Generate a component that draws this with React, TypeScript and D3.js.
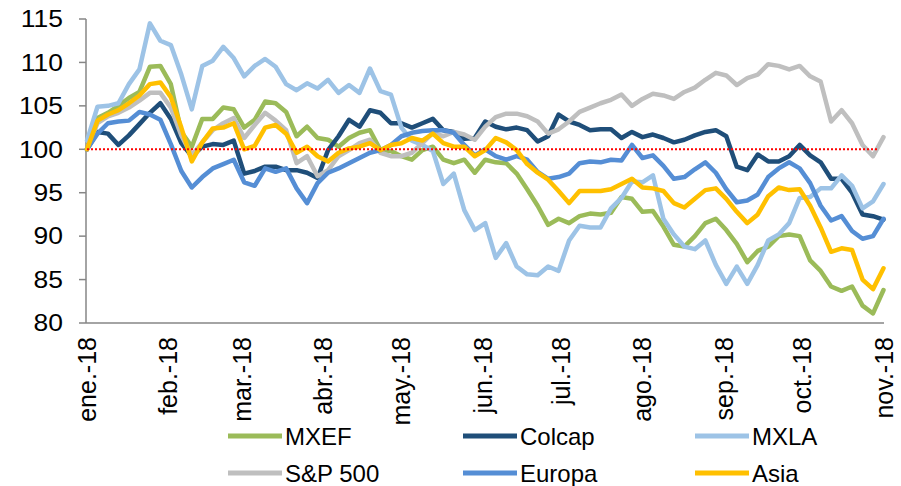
import { useEffect, useRef } from "react"
import * as d3 from "d3"

// fechas (cada 4 días, 2018)
const dates = [
  "01-01", "01-05", "01-09", "01-13", "01-17", "01-21", "01-25", "01-29", "02-02", "02-06",
  "02-10", "02-14", "02-18", "02-22", "02-26", "03-02", "03-06", "03-10", "03-14", "03-18",
  "03-22", "03-26", "03-30", "04-03", "04-07", "04-11", "04-15", "04-19", "04-23",
  "04-27", "05-01", "05-05", "05-09", "05-13", "05-17", "05-21", "05-25", "05-29", "06-02",
  "06-06", "06-10", "06-14", "06-18", "06-22", "06-26", "06-30", "07-04", "07-08",
  "07-12", "07-16", "07-20", "07-24", "07-28", "08-01", "08-05", "08-09", "08-13", "08-17",
  "08-21", "08-25", "08-29", "09-02", "09-06", "09-10", "09-14", "09-18", "09-22",
  "09-26", "09-30", "10-04", "10-08", "10-12", "10-16", "10-20", "10-24", "10-28", "11-01",
]

const mxef = [
  100, 103.6, 104.2, 105, 105.9, 106.6, 109.5, 109.6, 107.5, 102,
  100.3, 103.5, 103.5, 104.8, 104.6, 102.5, 103.4, 105.5, 105.3, 104.3,
  101.5, 102.6, 101.3, 101.1, 100.3, 101.3, 101.9, 102.2, 99.9,
  99.8, 99.2, 98.8, 99.9, 100.3, 98.8, 98.4, 98.8, 97.3, 98.8,
  98.5, 98.4, 97.2, 95.4, 93.5, 91.3, 92, 91.5, 92.3,
  92.6, 92.5, 92.7, 94.5, 94.3, 92.8, 92.9, 91.1, 89, 88.8,
  90, 91.5, 92, 90.7, 89.1, 87, 88.3, 88.8, 90,
  90.2, 90, 87.2, 86, 84.2, 83.7, 84.2, 82, 81.1, 83.8,
]

const colcap = [
  100, 102, 101.8, 100.5, 101.6, 102.9, 104.2, 105.3, 103.5, 100.7,
  99.2, 100.3, 100.6, 100.5, 101, 97.2, 97.5, 98, 98, 97.6,
  97.6, 97.3, 96.7, 99.9, 101.5, 103.4, 102.6, 104.5, 104.2,
  103, 103, 102.5, 103, 103.5, 102.2, 102, 101.2, 101.3, 103.2,
  102.6, 102.3, 102.5, 102.2, 100.9, 101.5, 104, 103.2, 102.8,
  102.2, 102.3, 102.3, 101.3, 102, 101.4, 101.7, 101.3, 100.8, 101.1,
  101.6, 102, 102.2, 101.5, 98, 97.6, 99.4, 98.6, 98.6,
  99.2, 100.5, 99.3, 98.5, 96.6, 96.6, 95, 92.5, 92.3, 91.9,
]

const mxla = [
  101, 104.9, 105, 105.3, 107.5, 109.2, 114.5, 112.5, 112, 108.6,
  104.6, 109.6, 110.2, 111.8, 110.5, 108.4, 109.6, 110.4, 109.5, 107.5,
  106.8, 107.6, 107, 108, 106.5, 107.4, 106.5, 109.3, 106.7,
  106.3, 102.5, 101, 100.5, 99.8, 96, 97.2, 93, 90.7, 91.5,
  87.5, 89.2, 86.5, 85.6, 85.5, 86.5, 86, 89.5, 91.2,
  91, 91, 93.2, 94.4, 96.3, 96.2, 97, 92, 90.2, 88.8,
  88.5, 89.5, 86.7, 84.5, 86.5, 84.5, 86.7, 89.5, 90.2,
  91.5, 94.4, 94.5, 95.5, 95.5, 97, 95.8, 93.2, 94, 96,
]

const sp500 = [
  100, 103, 103.8, 104.2, 104.8, 105.6, 106.5, 106.5, 104.8, 101.6,
  99.3, 100.8, 102.2, 103, 103.6, 101.3, 102.8, 104.2, 103.3, 102.2,
  98.4, 99.2, 96.9, 97.6, 99.2, 99.9, 100.7, 101.1, 99.6,
  99.2, 99.2, 99.6, 100.7, 101.9, 101.5, 102, 101.7, 101.1, 102.6,
  103.7, 104.1, 104.1, 103.8, 103.2, 101.8, 102.3, 103.2, 104.3,
  104.8, 105.3, 105.7, 106.3, 105, 105.8, 106.4, 106.2, 105.8, 106.6,
  107.1, 108, 108.8, 108.5, 107.4, 108.2, 108.6, 109.8, 109.6,
  109.2, 109.6, 108.4, 107.8, 103.2, 104.5, 103, 100.5, 99.2, 101.4,
]

const europa = [
  100, 101.8, 103, 103.2, 103.3, 104.3, 104, 103.4, 100.6, 97.5,
  95.6, 96.8, 97.8, 98.3, 98.8, 96.2, 95.8, 97.8, 97.4, 97.8,
  95.5, 93.8, 96.1, 97.3, 97.8, 98.4, 99, 99.6, 99.9,
  100.5, 101.5, 101.9, 102.1, 102.2, 102.2, 101.9, 100.5, 99.3, 100,
  99.2, 98.8, 99.2, 98.8, 97.4, 96.6, 96.8, 97.2, 98.4,
  98.6, 98.5, 98.8, 98.7, 100.5, 99, 99.3, 98.1, 96.6, 96.8,
  97.7, 98.5, 97.3, 95.4, 93.9, 94.1, 94.8, 96.8, 97.8,
  98.5, 97.8, 96.1, 93.5, 91.8, 92.3, 90.6, 89.7, 90, 92,
]

const asia = [
  100, 103.3, 104, 104.5, 105.3, 106.2, 107.5, 107.7, 106, 102.5,
  98.6, 100.8, 102.4, 102.5, 103, 100, 100.4, 102.5, 102.8, 101.8,
  99.6, 100.3, 99.2, 98.6, 99.6, 100.1, 100.3, 100.7, 99.9,
  100.5, 100.7, 101.3, 101, 101.8, 100.7, 100.3, 100.3, 99.2, 99.9,
  101.3, 100.8, 99.9, 98.3, 97.3, 96.5, 95.2, 93.8, 95.2,
  95.2, 95.2, 95.4, 96, 96.6, 95.6, 95.5, 95.2, 93.8, 93.3,
  94.3, 95.3, 95.5, 94.3, 92.8, 91.5, 92.5, 94.6, 95.6,
  95.3, 95.4, 93.5, 91, 88.2, 88.6, 88.4, 85, 83.9, 86.3,
]

const seriesNames = ["MXEF", "Colcap", "MXLA", "S&P 500", "Europa", "Asia"]
const seriesValues = [mxef, colcap, mxla, sp500, europa, asia]
const seriesColors = ["#9BBB59", "#1F4E79", "#9DC3E6", "#BFBFBF", "#558ED5", "#FFC000"]

const monthTicks = ["01-01", "02-01", "03-01", "04-01", "05-01", "06-01", "07-01", "08-01", "09-01", "10-01", "11-01"]
const monthLabels = ["ene.-18", "feb.-18", "mar.-18", "abr.-18", "may.-18", "jun.-18", "jul.-18", "ago.-18", "sep.-18", "oct.-18", "nov.-18"]
const yTicks = [80, 85, 90, 95, 100, 105, 110, 115]
const refValue = 100
const refRange = ["01-01", "10-30"]

const parse = (s: string) => d3.timeParse("%Y-%m-%d")("2018-" + s) as Date

export default function App() {
  const svgRef = useRef<SVGSVGElement | null>(null)

  useEffect(() => {
    if (!svgRef.current) return
    const svg = d3.select(svgRef.current)
    svg.selectAll("*").remove()

    const width = 901
    const height = 486
    const font = "'Liberation Sans', Arial, sans-serif"

    const x = d3.scaleTime().domain([parse("01-01"), parse("11-01")]).range([87, 883.5])
    const y = d3.scaleLinear().domain([80, 115]).range([323, 19])

    // ejes
    svg.append("line")
      .attr("x1", 86).attr("x2", 86).attr("y1", y(115)).attr("y2", y(80))
      .attr("stroke", "#868686").attr("stroke-width", 1.5)
    svg.append("line")
      .attr("x1", 86).attr("x2", 884).attr("y1", y(80)).attr("y2", y(80))
      .attr("stroke", "#868686").attr("stroke-width", 1.5)

    svg.append("g").selectAll("line").data(yTicks).enter().append("line")
      .attr("x1", 79).attr("x2", 86)
      .attr("y1", (d) => y(d)).attr("y2", (d) => y(d))
      .attr("stroke", "#868686").attr("stroke-width", 1.5)

    svg.append("g").selectAll("text").data(yTicks).enter().append("text")
      .attr("transform", (d) => `translate(63,${y(d)}) scale(1.15,1)`)
      .attr("dy", "0.36em")
      .attr("text-anchor", "end")
      .attr("font-family", font)
      .attr("font-size", 23)
      .attr("fill", "#000")
      .text((d) => d)

    svg.append("g").selectAll("text").data(monthTicks).enter().append("text")
      .attr("transform", (d) => `translate(${x(parse(d))},337) rotate(-90)`)
      .attr("dy", "0.36em")
      .attr("text-anchor", "end")
      .attr("font-family", font)
      .attr("font-size", 25)
      .attr("fill", "#000")
      .text((d, i) => monthLabels[i])

    // series
    const line = d3.line<number>()
      .x((d, i) => x(parse(dates[i])))
      .y((d) => y(d))

    svg.append("g").selectAll("path").data(seriesValues).enter().append("path")
      .attr("d", (d) => line(d))
      .attr("fill", "none")
      .attr("stroke", (d, i) => seriesColors[i])
      .attr("stroke-width", 4.5)
      .attr("stroke-linejoin", "round")
      .attr("stroke-linecap", "round")

    // línea de referencia en 100
    svg.append("line")
      .attr("x1", x(parse(refRange[0]))).attr("x2", x(parse(refRange[1])))
      .attr("y1", y(refValue)).attr("y2", y(refValue))
      .attr("stroke", "#FF0000").attr("stroke-width", 2)
      .attr("stroke-dasharray", "2,2")

    // leyenda
    const legX = [228, 463, 695]
    const legY = [436, 473]
    const leg = svg.append("g").selectAll("g").data(seriesNames).enter().append("g")
      .attr("transform", (d, i) => `translate(${legX[i % 3]},${legY[Math.floor(i / 3)]})`)
    leg.append("line")
      .attr("x1", 0).attr("x2", 54).attr("y1", 0).attr("y2", 0)
      .attr("stroke", (d, i) => seriesColors[i]).attr("stroke-width", 5)
    leg.append("text")
      .attr("x", 57).attr("dy", "0.36em")
      .attr("font-family", font)
      .attr("font-size", 24)
      .attr("fill", "#000")
      .text((d) => d)

    svg.attr("width", width).attr("height", height).attr("viewBox", [0, 0, width, height])
  }, [])

  return (
    <div style={{ position: "absolute", left: 0, top: 0, background: "#fff" }}>
      <svg ref={svgRef} style={{ display: "block" }}></svg>
    </div>
  )
}
